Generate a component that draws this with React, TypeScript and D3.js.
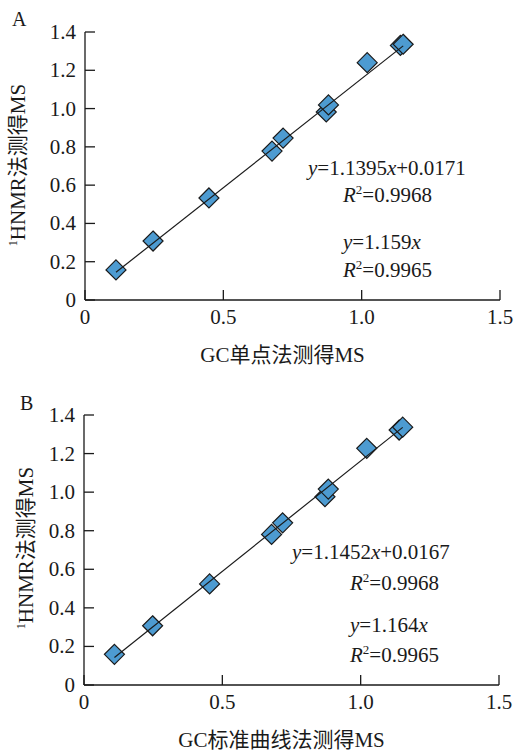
import { scaleLinear, line } from 'd3';

// GC single-point (A) vs 1H NMR
const gcSingle = [0.112, 0.246, 0.448, 0.676, 0.716, 0.872, 0.880, 1.020, 1.140, 1.150];
const nmrA = [0.157, 0.308, 0.533, 0.778, 0.846, 0.982, 1.019, 1.240, 1.330, 1.336];
// GC standard curve (B) vs 1H NMR
const gcCurve = [0.110, 0.248, 0.454, 0.678, 0.718, 0.871, 0.883, 1.022, 1.139, 1.152];
const nmrB = [0.159, 0.307, 0.524, 0.781, 0.841, 0.976, 1.016, 1.227, 1.322, 1.337];

const xTicks = [0, 0.5, 1.0, 1.5];
const xTickLabels = ['0', '0.5', '1.0', '1.5'];
const yTicks = [0, 0.2, 0.4, 0.6, 0.8, 1.0, 1.2, 1.4];
const yTickLabels = ['0', '0.2', '0.4', '0.6', '0.8', '1.0', '1.2', '1.4'];

const fitA = { slope: 1.1395, intercept: 0.0171, r2: '0.9968', slope0: '1.159', r20: '0.9965' };
const fitB = { slope: 1.1452, intercept: 0.0167, r2: '0.9968', slope0: '1.164', r20: '0.9965' };

const FONT = '"Liberation Serif", "Times New Roman", "Noto Sans CJK SC", serif';
const FS = 21;
const FILL = '#4d9bd1';

interface PanelProps {
  letter: string;
  xs: number[];
  ys: number[];
  fit: typeof fitA;
  xTitle: string;
  left: number;
  right: number;
  top: number;
  bottom: number;
  letterPos: [number, number];
  yTitlePos: [number, number];
  eqPos: [number, number][];
}

function Eq({ x, y, slope, intercept }: { x: number; y: number; slope: string; intercept?: string }) {
  return (
    <text x={x} y={y} fontSize={FS}>
      <tspan fontStyle="italic">y</tspan>
      <tspan>={slope}</tspan>
      <tspan fontStyle="italic">x</tspan>
      {intercept && <tspan>+{intercept}</tspan>}
    </text>
  );
}

function R2({ x, y, value }: { x: number; y: number; value: string }) {
  return (
    <text x={x} y={y} fontSize={FS}>
      <tspan fontStyle="italic">R</tspan>
      <tspan fontSize={13} dy={-8}>2</tspan>
      <tspan dy={8}>={value}</tspan>
    </text>
  );
}

function Panel(p: PanelProps) {
  const x = scaleLinear().domain([0, 1.5]).range([p.left, p.right]);
  const y = scaleLinear().domain([0, 1.4]).range([p.bottom, p.top]);
  const x0 = Math.min(...p.xs);
  const x1 = Math.max(...p.xs);
  const fitLine = line<number>()
    .x((d) => x(d))
    .y((d) => y(p.fit.slope * d + p.fit.intercept))([x0, x1]);
  const pts = p.xs.map((v, i) => [x(v), y(p.ys[i])]);
  const r = 10;
  return (
    <g fontFamily={FONT} fill="#1a1a1a">
      <text x={p.letterPos[0]} y={p.letterPos[1]} fontSize={20}>{p.letter}</text>
      {/* axes */}
      <line x1={p.left} x2={p.left} y1={p.bottom} y2={y(1.4)} stroke="#1a1a1a" strokeWidth={1.3} />
      <line x1={p.left} x2={x(1.5)} y1={p.bottom} y2={p.bottom} stroke="#1a1a1a" strokeWidth={1.3} />
      {yTicks.map((t, i) => (
        <g key={'y' + i}>
          <line x1={p.left} x2={p.left + 10} y1={y(t)} y2={y(t)} stroke="#1a1a1a" strokeWidth={1.3} />
          <text x={p.left - 9} y={y(t) + 7} textAnchor="end" fontSize={FS}>{yTickLabels[i]}</text>
        </g>
      ))}
      {xTicks.map((t, i) => (
        <g key={'x' + i}>
          <line x1={x(t)} x2={x(t)} y1={p.bottom} y2={p.bottom - 10} stroke="#1a1a1a" strokeWidth={1.3} />
          <text x={x(t)} y={p.bottom + 24} textAnchor="middle" fontSize={FS}>{xTickLabels[i]}</text>
        </g>
      ))}
      <text x={(p.left + p.right) / 2 - 10} y={p.bottom + 62} textAnchor="middle" fontSize={FS}>{p.xTitle}</text>
      <text
        transform={`translate(${p.yTitlePos[0]},${p.yTitlePos[1]}) rotate(-90)`}
        textAnchor="middle"
        fontSize={FS}
      >
        <tspan fontSize={12} dy={-8}>1</tspan>
        <tspan dy={8}>HNMR法测得MS</tspan>
      </text>
      {/* points */}
      {pts.map(([cx, cy], i) => (
        <path
          key={i}
          d={`M${cx},${cy - r}L${cx + r},${cy}L${cx},${cy + r}L${cx - r},${cy}Z`}
          fill={FILL}
          stroke="#1a1a1a"
          strokeWidth={1.2}
        />
      ))}
      <path d={fitLine ?? ''} fill="none" stroke="#1a1a1a" strokeWidth={1.2} />
      <Eq x={p.eqPos[0][0]} y={p.eqPos[0][1]} slope={p.fit.slope.toFixed(4)} intercept={p.fit.intercept.toFixed(4)} />
      <R2 x={p.eqPos[1][0]} y={p.eqPos[1][1]} value={p.fit.r2} />
      <Eq x={p.eqPos[2][0]} y={p.eqPos[2][1]} slope={p.fit.slope0} />
      <R2 x={p.eqPos[3][0]} y={p.eqPos[3][1]} value={p.fit.r20} />
    </g>
  );
}

export default function App() {
  return (
    <svg width={520} height={751} style={{ position: 'absolute', left: 0, top: 0, background: '#fff' }}>
      <rect width={520} height={751} fill="#fff" />
      <Panel
        letter="A"
        xs={gcSingle}
        ys={nmrA}
        fit={fitA}
        xTitle="GC单点法测得MS"
        left={85}
        right={500}
        top={32}
        bottom={300}
        letterPos={[12, 26]}
        yTitlePos={[25, 165]}
        eqPos={[[308, 175], [343, 202], [343, 249], [343, 277]]}
      />
      <Panel
        letter="B"
        xs={gcCurve}
        ys={nmrB}
        fit={fitB}
        xTitle="GC标准曲线法测得MS"
        left={84}
        right={499}
        top={415}
        bottom={685}
        letterPos={[20, 410]}
        yTitlePos={[33, 548]}
        eqPos={[[292, 559], [350, 590], [350, 632], [350, 662]]}
      />
    </svg>
  );
}
